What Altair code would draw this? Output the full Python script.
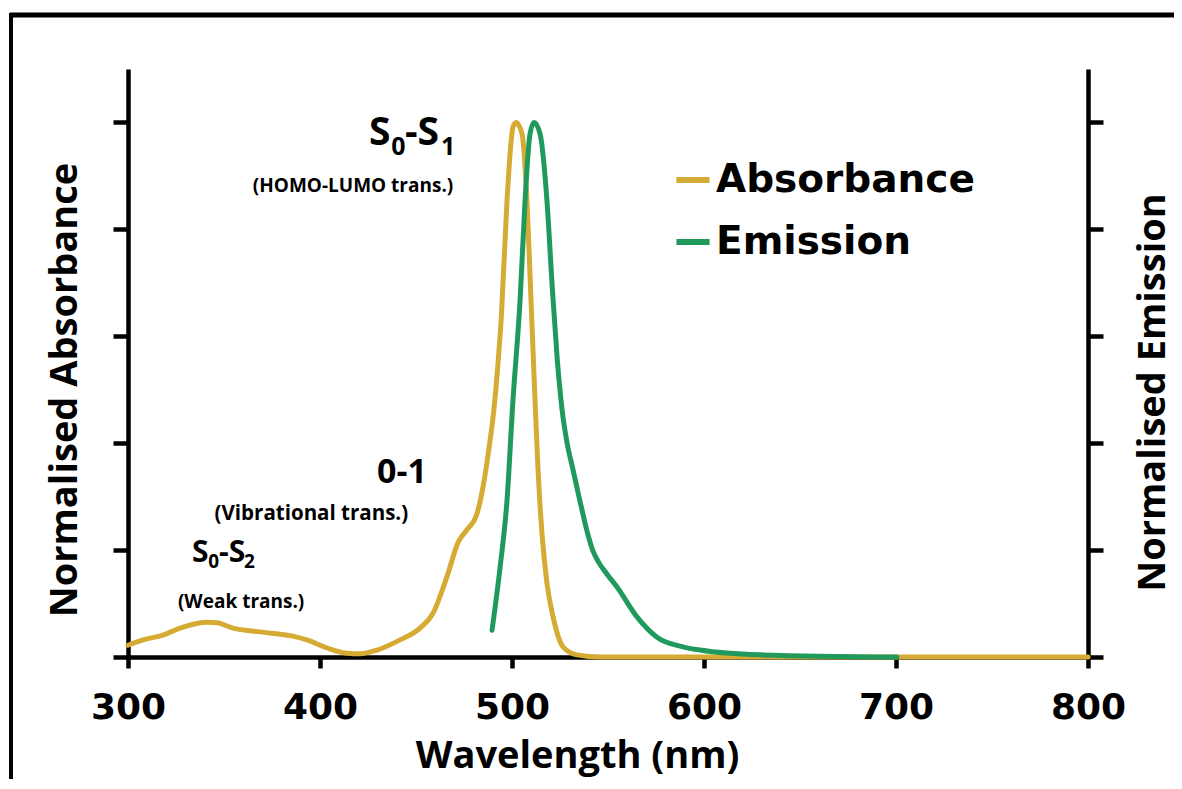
import altair as alt
import pandas as pd

# ---- data ----
abs_nm = [300.0, 307.8, 318.2, 328.6, 341.1, 346.4, 354.7, 368.8, 385.9, 393.2,
          403.6, 414.1, 420.8, 429.7, 441.7, 452.1, 458.9, 466.1, 472.0, 477.0,
          481.5, 485.0, 488.0, 490.5, 492.5, 494.5, 497.4, 500.5, 502.1, 505.2,
          507.8, 509.9, 512.0, 513.5, 515.6, 518.2, 521.4, 526.6, 533.9, 545.8,
          600.0, 700.0, 800.0]
abs_val = [0.022, 0.032, 0.041, 0.056, 0.065, 0.064, 0.054, 0.047, 0.039, 0.032,
           0.017, 0.007, 0.006, 0.013, 0.032, 0.054, 0.082, 0.150, 0.215, 0.240,
           0.265, 0.320, 0.390, 0.460, 0.540, 0.640, 0.854, 0.991, 1.000, 0.979,
           0.854, 0.667, 0.480, 0.355, 0.232, 0.138, 0.075, 0.019, 0.004, 0.0,
           0.0, 0.0, 0.0]

em_nm = [489.6, 493.8, 497.4, 500.5, 504.2, 506.8, 509.4, 511.5, 514.6, 518.2,
         521.0, 523.5, 526.0, 528.7, 531.8, 535.5, 539.1, 542.0, 545.0, 549.5,
         554.7, 565.1, 575.5, 589.1, 597.9, 629.2, 700.5]
em_val = [0.050, 0.168, 0.293, 0.480, 0.667, 0.854, 0.979, 1.000, 0.979, 0.854,
          0.690, 0.560, 0.465, 0.400, 0.350, 0.290, 0.235, 0.200, 0.178, 0.155,
          0.131, 0.075, 0.037, 0.019, 0.013, 0.004, 0.0]

series_names = ["Absorbance", "Emission"]
series_colors = ["#D5AB33", "#1F9A5C"]

x_ticks = [300, 400, 500, 600, 700, 800]
y_ticks = [0, 0.2, 0.4, 0.6, 0.8, 1.0]

# annotation texts (centered)
note_text = ["(HOMO-LUMO trans.)", "0-1", "(Vibrational trans.)", "(Weak trans.)"]
note_x = [417.2, 442.7, 395.5, 358.9]
note_y = [0.882, 0.344, 0.267, 0.103]
note_size = [19, 34, 20.5, 19]

# state labels with subscripts (left aligned pieces)
piece_text = ["S", "0", "-S", "1", "S", "0", "-S", "2"]
piece_x = [425.5, 437.1, 444.3, 463.0, 333.3, 341.8, 347.4, 360.4]
piece_y = [0.957, 0.940, 0.957, 0.940, 0.178, 0.166, 0.178, 0.166]
piece_size = [39, 25, 39, 25, 30, 19, 30, 19]

# ---- tables ----
abs_df = pd.DataFrame({"nm": abs_nm, "val": abs_val, "series": "Absorbance"})
em_df = pd.DataFrame({"nm": em_nm, "val": em_val, "series": "Emission"})
notes_df = pd.DataFrame({"nm": note_x, "val": note_y, "t": note_text, "fs": note_size})
pieces_df = pd.DataFrame({"nm": piece_x, "val": piece_y, "t": piece_text, "fs": piece_size})

W, H = 960, 588
xscale = alt.Scale(domain=[300, 800], nice=False)
yscale = alt.Scale(domain=[0, 1.1], nice=False, zero=False)
color = alt.Color("series:N",
                  scale=alt.Scale(domain=series_names, range=series_colors),
                  legend=alt.Legend(title=None, orient="none", legendX=545, legendY=91,
                                    symbolType="stroke", symbolSize=1100,
                                    symbolStrokeWidth=6, labelFont="DejaVu Sans",
                                    labelFontWeight="bold", labelFontSize=39,
                                    labelColor="black", rowPadding=22, labelOffset=3,
                                    padding=0, labelLimit=500))

xaxis = alt.Axis(values=x_ticks, title="Wavelength (nm)", labelFont="DejaVu Sans",
                 labelFontWeight="bold", labelFontSize=36, labelColor="black",
                 labelFlush=False, labelOverlap=False,
                 tickSize=11, labelPadding=22, titleFont="Open Sans",
                 titleFontWeight="bold", titleFontSize=38, titleColor="black",
                 titleX=449, titleY=99, titleBaseline="middle", titleAlign="center")

left_axis = alt.Axis(values=y_ticks, labels=False, tickSize=15,
                     title="Normalised Absorbance", titleFont="Open Sans",
                     titleFontWeight="bold", titleFontSize=38, titleColor="black",
                     titleAngle=270, titleX=-63, titleY=320.5,
                     titleBaseline="middle", titleAlign="center")
right_axis = alt.Axis(values=y_ticks, labels=False, tickSize=15, orient="right",
                      title="Normalised Emission", titleFont="Open Sans",
                      titleFontWeight="bold", titleFontSize=38, titleColor="black",
                      titleAngle=270, titleX=65, titleY=323,
                      titleBaseline="middle", titleAlign="center")

abs_line = alt.Chart(abs_df).mark_line(strokeWidth=5, interpolate="monotone",
                                       strokeCap="round").encode(
    x=alt.X("nm:Q", scale=xscale, axis=xaxis),
    y=alt.Y("val:Q", scale=yscale, axis=left_axis),
    color=color,
)

notes = alt.Chart(notes_df).mark_text(font="Open Sans", fontWeight="bold",
                                      align="center", baseline="middle",
                                      color="black").encode(
    x=alt.X("nm:Q", scale=xscale),
    y=alt.Y("val:Q", scale=yscale),
    text="t:N",
    size=alt.Size("fs:Q", scale=None, legend=None),
)

pieces = alt.Chart(pieces_df).mark_text(font="Open Sans", fontWeight="bold",
                                        align="left", baseline="alphabetic",
                                        color="black").encode(
    x=alt.X("nm:Q", scale=xscale),
    y=alt.Y("val:Q", scale=yscale),
    text="t:N",
    size=alt.Size("fs:Q", scale=None, legend=None),
)

frame_src = pd.DataFrame({"k": [0]})
frame_top = alt.Chart(frame_src).mark_rule(color="black", strokeWidth=5).encode(
    x=alt.value(-118), x2=alt.value(1060), y=alt.value(-54))
frame_left = alt.Chart(frame_src).mark_rule(color="black", strokeWidth=4).encode(
    x=alt.value(-117), y=alt.value(-56), y2=alt.value(730))

em_line = alt.Chart(em_df).mark_line(strokeWidth=5, interpolate="monotone",
                                     strokeCap="round").encode(
    x=alt.X("nm:Q", scale=xscale),
    y=alt.Y("val:Q", scale=yscale, axis=right_axis),
    color=color,
)

left_part = alt.layer(abs_line, notes, pieces, frame_top, frame_left)
chart = alt.layer(left_part, em_line).resolve_scale(y="independent").properties(
    width=W, height=H,
    autosize=alt.AutoSizeParams(type="none"),
    padding={"left": 120, "top": 61, "right": 86, "bottom": 122},
    background="white",
).configure_view(strokeWidth=0).configure_axis(
    grid=False, domainColor="black", domainWidth=4.5, tickColor="black",
    tickWidth=4.5,
)

chart.save("out.html", embed_options={"renderer": "svg", "actions": False})
